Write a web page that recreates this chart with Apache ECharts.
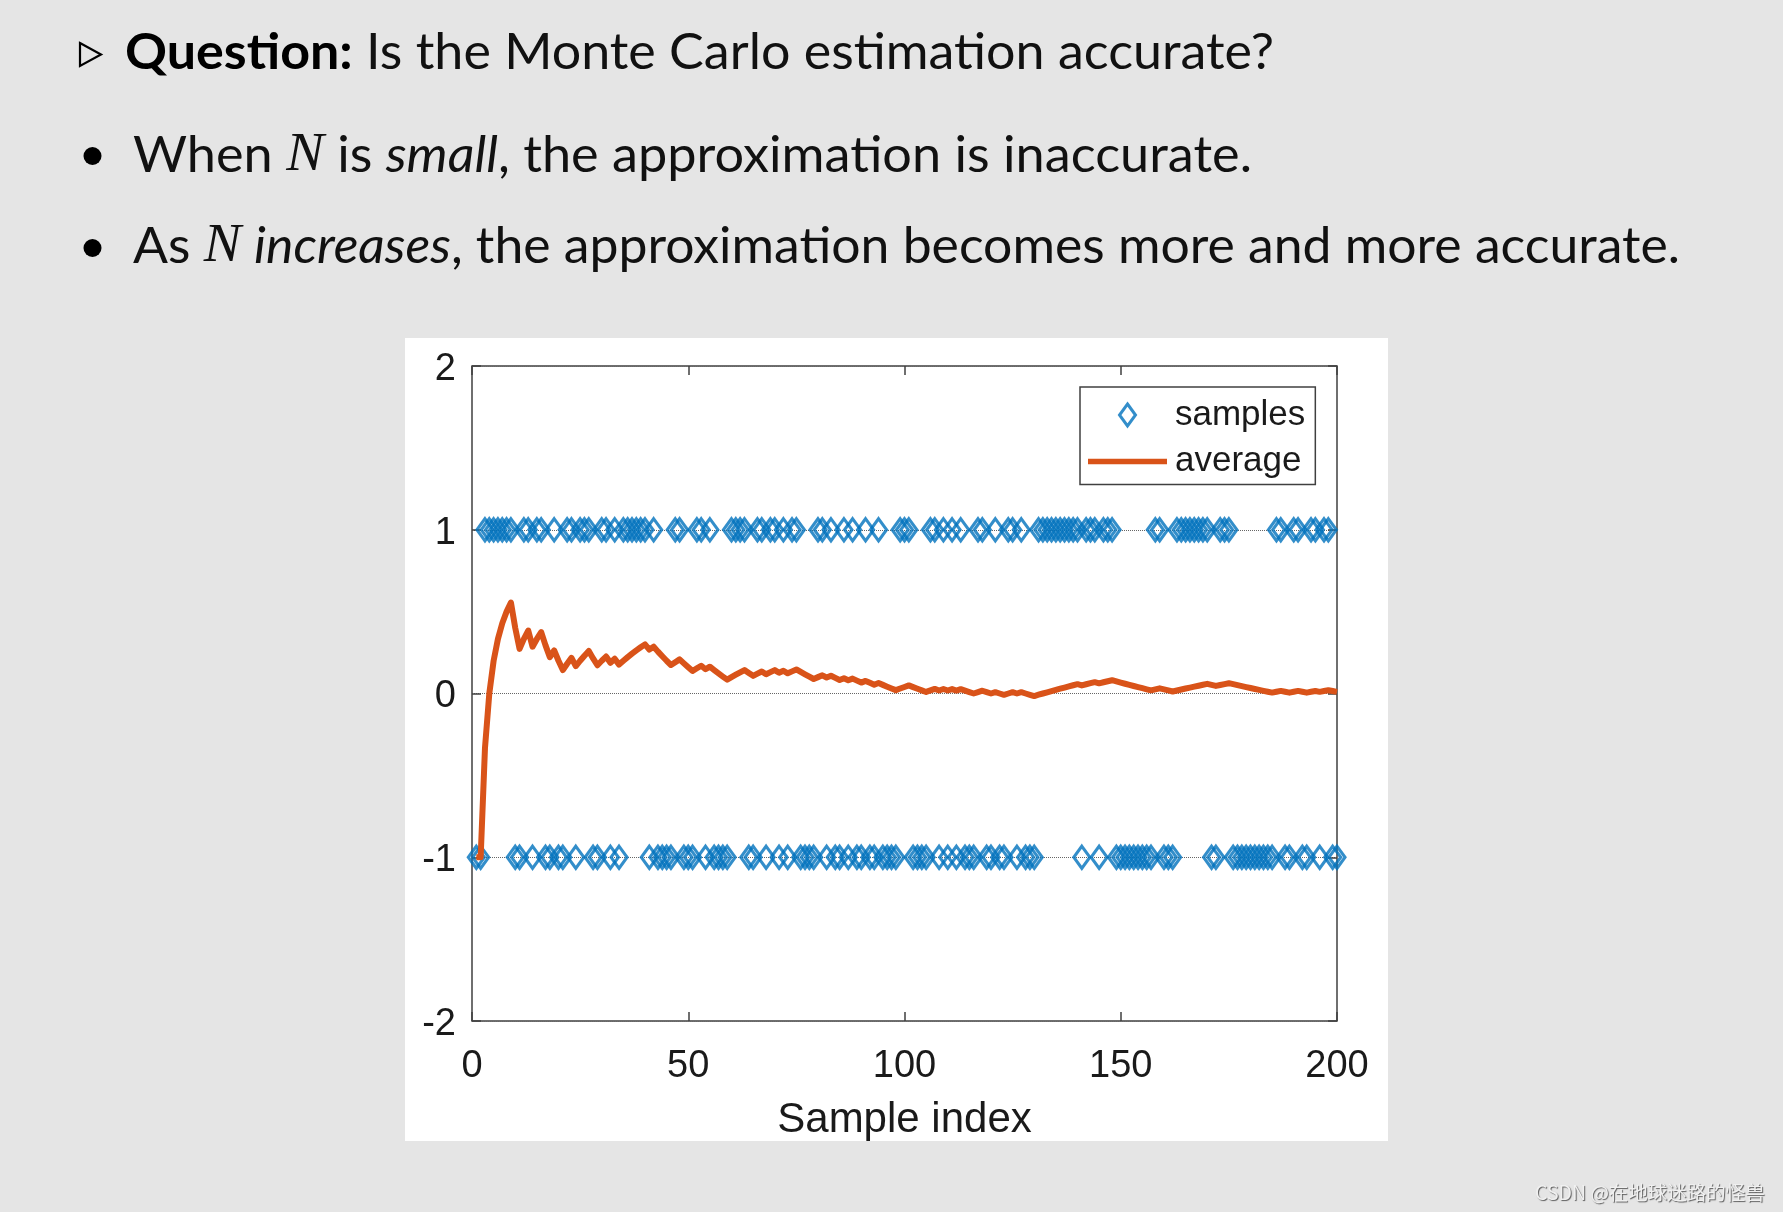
<!DOCTYPE html>
<html><head><meta charset="utf-8">
<script src="https://cdn.jsdelivr.net/npm/echarts@6/dist/echarts.min.js"></script>
<style>html,body{margin:0;padding:0;background:#e5e5e5;} #c{width:1783px;height:1212px;}</style>
</head><body><div id="c"></div>
<script>
// Each Monte Carlo sample (index 1..200)
const samples = [
 -1,-1, 1, 1, 1, 1, 1, 1, 1,-1,
 -1, 1, 1,-1, 1, 1,-1,-1, 1,-1,
 -1, 1, 1,-1, 1, 1, 1,-1,-1, 1,
  1,-1, 1,-1, 1, 1, 1, 1, 1, 1,
 -1, 1,-1,-1,-1,-1, 1, 1,-1,-1,
 -1, 1, 1,-1, 1,-1,-1,-1,-1, 1,
  1, 1, 1,-1,-1, 1, 1,-1, 1, 1,
 -1, 1,-1, 1, 1,-1,-1,-1,-1, 1,
  1,-1, 1,-1,-1, 1,-1, 1,-1,-1,
  1,-1,-1, 1,-1,-1,-1,-1, 1, 1,
  1,-1,-1,-1,-1, 1, 1,-1, 1,-1,
  1,-1, 1,-1,-1,-1, 1, 1,-1,-1,
  1,-1,-1, 1, 1,-1, 1,-1,-1,-1,
  1, 1, 1, 1, 1, 1, 1, 1, 1, 1,
 -1, 1, 1, 1,-1, 1, 1, 1,-1,-1,
 -1,-1,-1,-1,-1,-1,-1, 1, 1,-1,
 -1,-1, 1, 1, 1, 1, 1, 1, 1, 1,
 -1,-1, 1, 1, 1,-1,-1,-1,-1,-1,
 -1,-1,-1,-1,-1, 1, 1,-1,-1, 1,
  1,-1,-1, 1, 1,-1, 1, 1,-1,-1
];
// "average" curve values (index 1..200)
const average = [
 -1, -1, -0.3333, 0, 0.2, 0.3333, 0.4286, 0.5, 0.5556, 0.4,
 0.2727, 0.3333, 0.3846, 0.2857, 0.3333, 0.375, 0.2941, 0.2222, 0.2632, 0.2,
 0.1429, 0.1818, 0.2174, 0.1667, 0.2, 0.2308, 0.2593, 0.2143, 0.1724, 0.2,
 0.2258, 0.1875, 0.2121, 0.1765, 0.2, 0.2222, 0.2432, 0.2632, 0.2821, 0.3,
 0.2683, 0.2857, 0.2558, 0.2273, 0.2, 0.1739, 0.1915, 0.2083, 0.1837, 0.16,
 0.1373, 0.1538, 0.1698, 0.1481, 0.1636, 0.1429, 0.1228, 0.1034, 0.0847, 0.1,
 0.1148, 0.129, 0.1429, 0.125, 0.1077, 0.1212, 0.1343, 0.1176, 0.1304, 0.1429,
 0.1268, 0.1389, 0.1233, 0.1351, 0.1467, 0.1316, 0.1169, 0.1026, 0.0886, 0.1,
 0.1111, 0.0976, 0.1084, 0.0952, 0.0824, 0.093, 0.0805, 0.0909, 0.0787, 0.0667,
 0.0769, 0.0652, 0.0538, 0.0638, 0.0526, 0.0417, 0.0309, 0.0204, 0.0303, 0.04,
 0.0495, 0.0392, 0.0291, 0.0192, 0.0095, 0.0189, 0.028, 0.0185, 0.0275, 0.0182,
 0.027, 0.0179, 0.0265, 0.0175, 0.0087, 0, 0.0085, 0.0169, 0.0084, 0,
 0.0083, 0, -0.0081, 0, 0.008, 0, 0.0079, 0, -0.0078, -0.0154,
 -0.0076, 0, 0.0075, 0.0149, 0.0222, 0.0294, 0.0365, 0.0435, 0.0504, 0.0571,
 0.0496, 0.0563, 0.0629, 0.0694, 0.0621, 0.0685, 0.0748, 0.0811, 0.0738, 0.0667,
 0.0596, 0.0526, 0.0458, 0.039, 0.0323, 0.0256, 0.0191, 0.0253, 0.0314, 0.025,
 0.0186, 0.0123, 0.0184, 0.0244, 0.0303, 0.0361, 0.0419, 0.0476, 0.0533, 0.0588,
 0.0526, 0.0465, 0.052, 0.0575, 0.0629, 0.0568, 0.0508, 0.0449, 0.0391, 0.0333,
 0.0276, 0.022, 0.0164, 0.0109, 0.0054, 0.0108, 0.016, 0.0106, 0.0053, 0.0105,
 0.0157, 0.0104, 0.0052, 0.0103, 0.0154, 0.0102, 0.0152, 0.0202, 0.0151, 0.01
];

const xTicks = [0, 50, 100, 150, 200];
const yTicks = [-2, -1, 0, 1, 2];
const seriesNames = ['samples', 'average'];
const xName = 'Sample index';
const slideLines = {
  q: 'Question:',
  q2: ' Is the Monte Carlo estimation accurate?',
  l2: ['When ', 'N', ' is ', 'small', ', the approximation is inaccurate.'],
  l3: ['As ', 'N', ' ', 'increases', ', the approximation becomes more and more accurate.']
};
const watermark = 'CSDN @在地球迷路的怪兽';

const SANS = 'Lato';
const FS = 50, NFS = 54;
const ctx = document.createElement('canvas').getContext('2d');
function measure(parts){ let w=0; parts.forEach(p=>{ctx.font=p[1]; w+=ctx.measureText(p[0]).width;}); return w; }
const fReg = FS+'px '+SANS, fBold = 'bold '+FS+'px '+SANS, fIt = 'italic '+FS+'px '+SANS, fN = 'italic '+NFS+'px "Liberation Serif"';
const w1 = measure([[slideLines.q,fBold],[slideLines.q2,fReg]]);
const w2 = measure([[slideLines.l2[0],fReg],[slideLines.l2[1],fN],[slideLines.l2[2],fReg],[slideLines.l2[3],fIt],[slideLines.l2[4],fReg]]);
const w3 = measure([[slideLines.l3[0],fReg],[slideLines.l3[1],fN],[slideLines.l3[2],fReg],[slideLines.l3[3],fIt],[slideLines.l3[4],fReg]]);
const rich = {
  r: {fontFamily:SANS, fontSize:FS, lineHeight:60, fill:'#111'},
  b: {fontFamily:SANS, fontSize:FS, fontWeight:'bold', lineHeight:60, fill:'#000'},
  i: {fontFamily:SANS, fontSize:FS, fontStyle:'italic', lineHeight:60, fill:'#111'},
  m: {fontFamily:'Liberation Serif', fontSize:NFS, fontStyle:'italic', lineHeight:60, fill:'#111'}
};
function slideText(x, y, text, targetW, measured){
  return {type:'text', x:x, y:y, scaleX: targetW/measured, z:10,
    style:{text:text, rich:rich, align:'left', verticalAlign:'middle', fill:'#111', font: fReg}};
}

const chart = echarts.init(document.getElementById('c'), null, {renderer:'canvas'});
const fontAx = 'Liberation Sans';
const axisCol = '#404040';
const tickCommon = {inside:true, length:9, lineStyle:{color:axisCol, width:1.5}};
chart.setOption({
  animation:false,
  backgroundColor:'#e5e5e5',
  graphic:[
    {type:'rect', shape:{x:405,y:338,width:983,height:803}, style:{fill:'#fff'}, z:-100},
    {type:'polygon', shape:{points:[[80,43],[101,54.5],[80,66]]}, style:{fill:'none', stroke:'#000', lineWidth:2.2}},
    {type:'circle', shape:{cx:92.5, cy:156, r:9}, style:{fill:'#000'}},
    {type:'circle', shape:{cx:92.5, cy:248, r:9}, style:{fill:'#000'}},
    slideText(125, 53, '{b|'+slideLines.q+'}{r|'+slideLines.q2+'}', 1149, w1),
    slideText(133, 156, '{r|'+slideLines.l2[0]+'}{m|'+slideLines.l2[1]+'}{r|'+slideLines.l2[2]+'}{i|'+slideLines.l2[3]+'}{r|'+slideLines.l2[4]+'}', 1119, w2),
    slideText(133, 247, '{r|'+slideLines.l3[0]+'}{m|'+slideLines.l3[1]+'}{r|'+slideLines.l3[2]+'}{i|'+slideLines.l3[3]+'}{r|'+slideLines.l3[4]+'}', 1547, w3),
    {type:'text', x:1535, y:1193, z:10, style:{text:watermark, fontSize:19.5, fontFamily:'"Noto Sans CJK SC"', fill:'#f0f0f0', verticalAlign:'middle', align:'left', textShadowColor:'rgba(0,0,0,0.6)', textShadowOffsetX:1, textShadowOffsetY:1, textShadowBlur:1}}
  ],
  grid:{left:472, top:366, width:865, height:655, show:true, borderColor:axisCol, borderWidth:1.5, backgroundColor:'#fff'},
  legend:{left:1080, top:387, orient:'vertical', padding:[10,10,5,8], itemWidth:79, itemHeight:22, itemGap:10.5,
    backgroundColor:'#fff', borderColor:axisCol, borderWidth:1.5, selectedMode:false,
    textStyle:{fontSize:35, lineHeight:36, fontFamily:fontAx, color:'#1a1a1a', padding:[0,0,0,3]},
    data:[{name:seriesNames[0], icon:'path://M8,0L16,11L8,22L0,11Z', itemStyle:{color:'rgba(0,0,0,0)', borderColor:'#0072BD', borderWidth:3}},
          {name:seriesNames[1], icon:'path://M0,0L80,0L80,5.5L0,5.5Z', itemStyle:{color:'#D95319', borderWidth:0}}]},
  xAxis:[
    {type:'value', min:xTicks[0], max:xTicks[xTicks.length-1], interval:xTicks[1]-xTicks[0], position:'bottom',
     axisLine:{show:false, onZero:false}, axisTick:tickCommon,
     axisLabel:{margin:27, fontSize:38, fontFamily:fontAx, color:'#1a1a1a'}, splitLine:{show:false},
     name:xName, nameLocation:'middle', nameGap:78, nameTextStyle:{fontSize:42, fontFamily:fontAx, color:'#1a1a1a'}},
    {type:'value', min:xTicks[0], max:xTicks[xTicks.length-1], interval:xTicks[1]-xTicks[0], position:'top',
     axisLine:{show:false, onZero:false}, axisTick:tickCommon,
     axisLabel:{show:false}, splitLine:{show:false}}
  ],
  yAxis:[
    {type:'value', min:yTicks[0], max:yTicks[yTicks.length-1], interval:yTicks[1]-yTicks[0], position:'left',
     axisLine:{show:false, onZero:false}, axisTick:tickCommon,
     axisLabel:{margin:16, fontSize:38, fontFamily:fontAx, color:'#1a1a1a', verticalAlign:'top', lineHeight:7},
     splitLine:{show:true, lineStyle:{type:'dotted', color:'#666', width:1}}},
    {type:'value', min:yTicks[0], max:yTicks[yTicks.length-1], interval:yTicks[1]-yTicks[0], position:'right',
     axisLine:{show:false, onZero:false}, axisTick:tickCommon,
     axisLabel:{show:false}, splitLine:{show:false}}
  ],
  series:[
    {type:'scatter', name:seriesNames[0], data:samples.map((v,i)=>[i+1,v]), symbol:'diamond', symbolSize:[16,22],
     itemStyle:{color:'rgba(0,0,0,0)', borderColor:'#0072BD', borderWidth:3.2}, emphasis:{disabled:true}, z:2},
    {type:'line', name:seriesNames[1], data:average.map((v,i)=>[i+1,v]), symbol:'none', showSymbol:false,
     lineStyle:{color:'#D95319', width:6, join:'round'}, itemStyle:{color:'#D95319'}, emphasis:{disabled:true}, z:3}
  ]
});
</script>
</body></html>
